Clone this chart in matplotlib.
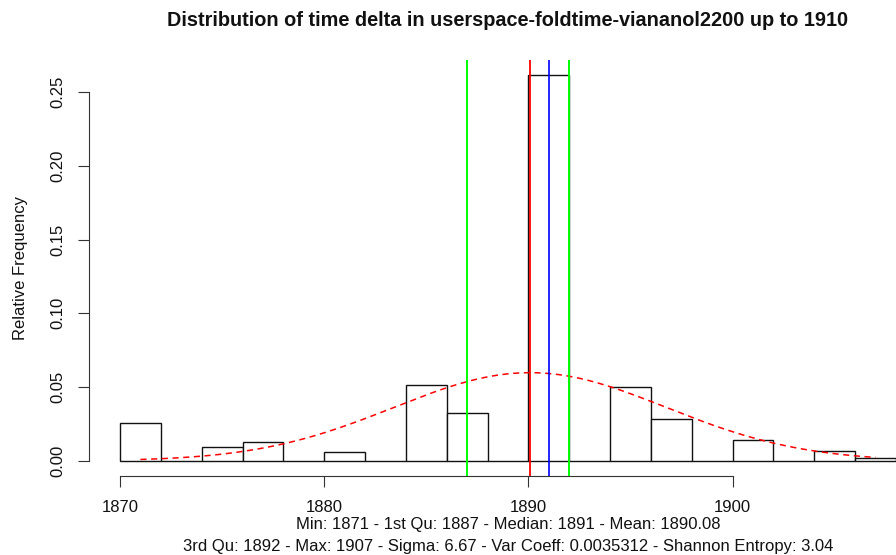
import numpy as np
import matplotlib
matplotlib.use("Agg")
import matplotlib.pyplot as plt

plt.rcParams['font.family'] = ['Liberation Sans', 'DejaVu Sans']

# Histogram of years (bin width 2), relative frequency (density)
bin_starts = [1870, 1872, 1874, 1876, 1878, 1880, 1882, 1884, 1886, 1888,
              1890, 1892, 1894, 1896, 1898, 1900, 1902, 1904, 1906]
density = [0.026, 0.0, 0.0095, 0.0129, 0.0, 0.0058, 0.0, 0.0515, 0.0325, 0.0,
           0.2615, 0.0, 0.050, 0.0285, 0.0, 0.0142, 0.0, 0.0068, 0.002]
bin_width = 2

# Summary statistics
stat_min, q1, median, mean, q3, stat_max = 1871, 1887, 1891, 1890.08, 1892, 1907
sigma = 6.67
var_coeff = 0.0035312
entropy = 3.04

x_ticks = [1870, 1880, 1890, 1900]
y_ticks = [0.00, 0.05, 0.10, 0.15, 0.20, 0.25]

title = "Distribution of time delta in userspace-foldtime-viananol2200 up to 1910"
line1 = f"Min: {stat_min} - 1st Qu: {q1} - Median: {median} - Mean: {mean}"
line2 = (f"3rd Qu: {q3} - Max: {stat_max} - Sigma: {sigma} - Var Coeff: {var_coeff}"
         f" - Shannon Entropy: {entropy}")

W, H = 896, 555
fig = plt.figure(figsize=(W / 100, H / 100), dpi=100)
ax = fig.add_axes([89 / W, 1 - 476.4 / H, (927 - 89) / W, (476.4 - 59.5) / H])

ax.bar(bin_starts, density, width=bin_width, align='edge',
       facecolor='white', edgecolor='#111111', linewidth=1.0, zorder=2)

# Fitted normal curve
xs = np.linspace(stat_min, stat_max, 300)
ys = np.exp(-0.5 * ((xs - mean) / sigma) ** 2) / (sigma * np.sqrt(2 * np.pi))
ax.plot(xs, ys, color='#FF0000', linestyle=(0, (4, 3)), linewidth=1.1, zorder=3)

# Mean, median and quartile markers
ax.axvline(mean, color='#FF0000', linewidth=1.3, zorder=4)
ax.axvline(median, color='#0000FF', linewidth=1.2, zorder=4)
ax.axvline(q1, color='#00FF00', linewidth=1.4, zorder=4)
ax.axvline(q3, color='#00FF00', linewidth=1.4, zorder=4)

lo, hi = bin_starts[0], bin_starts[-1] + bin_width
pad_x = 0.04 * (hi - lo)
ymax = max(density)
ax.set_xlim(lo - pad_x, hi + pad_x)
ax.set_ylim(-0.04 * ymax, ymax * 1.04)

for s in ['top', 'right']:
    ax.spines[s].set_visible(False)
ax.spines['left'].set_bounds(y_ticks[0], y_ticks[-1])
ax.spines['bottom'].set_bounds(x_ticks[0], x_ticks[-1])
ax.set_xticks(x_ticks)
ax.set_xticklabels([str(t) for t in x_ticks])
ax.set_yticks(y_ticks)
ax.set_yticklabels([f"{t:.2f}" for t in y_ticks], rotation=90, va='center')
ax.tick_params(axis='both', direction='out', length=8, width=0.8, labelsize=12,
               color='#333333', labelcolor='#111111')
ax.tick_params(axis='x', pad=9)
ax.tick_params(axis='y', pad=9)
for s in ['left', 'bottom']:
    ax.spines[s].set_linewidth(0.8)
    ax.spines[s].set_color('#333333')

ax.set_ylabel("Relative Frequency", fontsize=12, labelpad=16, color='#111111')

fig.text(508 / W, 1 - 20 / H, title, ha='center', va='center',
         fontsize=14.3, fontweight='bold', color='#111111')
fig.text(508 / W, 1 - 524 / H, line1, ha='center', va='center', fontsize=12,
         color='#111111')
fig.text(508 / W, 1 - 546 / H, line2, ha='center', va='center', fontsize=12,
         color='#111111')

fig.savefig("out.png", dpi=100)
